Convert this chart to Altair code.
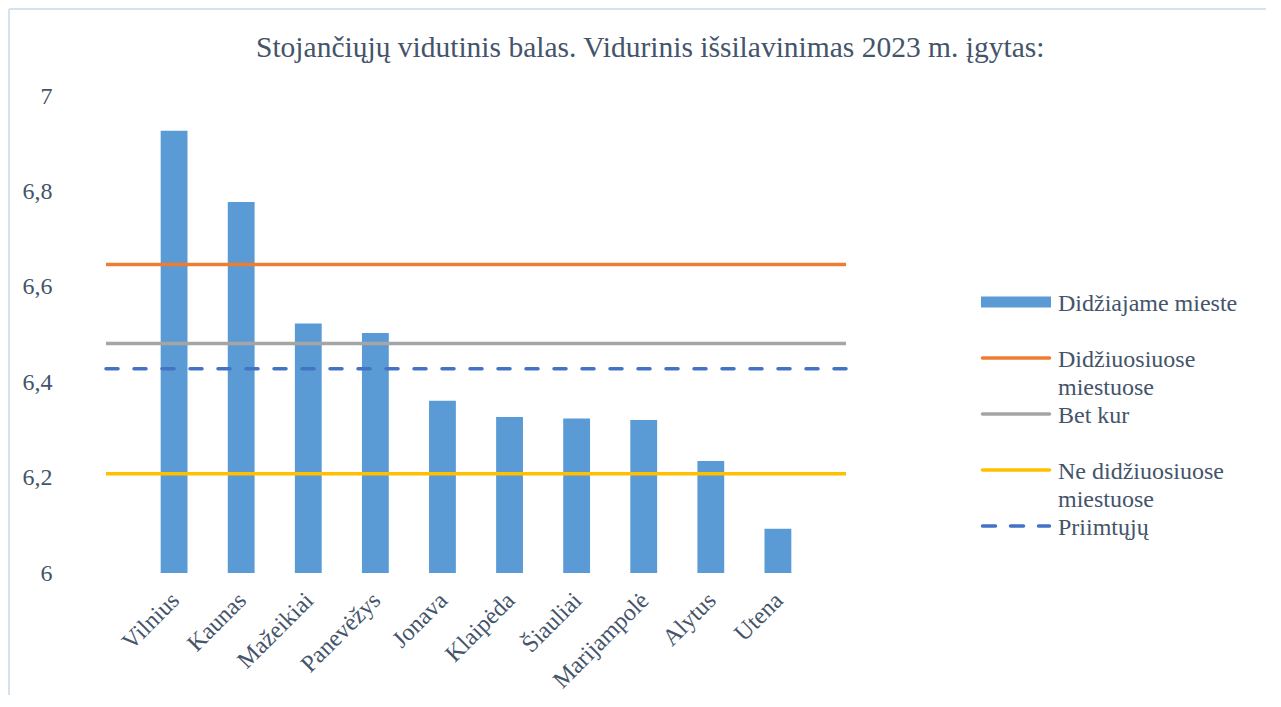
import altair as alt
import pandas as pd

# ---- data ----
cities = ["Vilnius", "Kaunas", "Mažeikiai", "Panevėžys", "Jonava",
          "Klaipėda", "Šiauliai", "Marijampolė", "Alytus", "Utena"]
city_scores = [6.927, 6.778, 6.523, 6.503, 6.361, 6.327, 6.324, 6.321, 6.235, 6.093]

bar_series = "Didžiajame mieste"
line_series = ["Didžiuosiuose miestuose", "Bet kur", "Ne didžiuosiuose miestuose", "Priimtųjų"]
line_values = [6.647, 6.481, 6.208, 6.428]

legend_labels = ["Didžiajame mieste", "Didžiuosiuose\nmiestuose", "Bet kur",
                 "Ne didžiuosiuose\nmiestuose", "Priimtųjų"]
series_colors = ["#5B9BD5", "#ED7D31", "#A5A5A5", "#FFC000", "#4472C4"]
y_ticks = [6, 6.2, 6.4, 6.6, 6.8, 7]

title_text = "Stojančiųjų vidutinis balas. Vidurinis išsilavinimas 2023 m. įgytas:"

FONT = "Liberation Serif"
TXT = "#44546A"

all_series = [bar_series] + line_series
color_scale = alt.Scale(domain=all_series, range=series_colors)
y_scale = alt.Scale(domain=[6, 7], zero=False, nice=False)

bars_df = pd.DataFrame({"city": cities, "score": city_scores})
lines_df = pd.DataFrame({"series": line_series, "value": line_values})
legend_df = pd.DataFrame({"series": all_series, "label": legend_labels,
                          "row": list(range(len(all_series)))})

bars = alt.Chart(bars_df).mark_bar(color="#5B9BD5", clip=True).encode(
    x=alt.X("city:N", sort=cities,
            scale=alt.Scale(paddingInner=0.6, paddingOuter=0.815),
            axis=alt.Axis(title=None, labelAngle=-45, labelPadding=15, labelOffset=-7)),
    y=alt.Y("score:Q", scale=y_scale,
            axis=alt.Axis(title=None, values=y_ticks, labelPadding=54,
                          labelExpr="replace(format(datum.value, '.1~f'), '.', ',')")),
)

solid = alt.Chart(lines_df).transform_filter(
    alt.datum.series != "Priimtųjų"
).mark_rule(strokeWidth=3.5).encode(
    y=alt.Y("value:Q", scale=y_scale),
    color=alt.Color("series:N", scale=color_scale, legend=None),
)

dashed = alt.Chart(lines_df).transform_filter(
    alt.datum.series == "Priimtųjų"
).mark_rule(strokeWidth=3.5, strokeDash=[12, 16], strokeCap="round").encode(
    y=alt.Y("value:Q", scale=y_scale),
    color=alt.Color("series:N", scale=color_scale, legend=None),
)

frame_df = pd.DataFrame({"k": [0]})
frame_left = alt.Chart(frame_df).mark_rule(color="#D5E3F1", strokeWidth=2).encode(
    x=alt.value(-97), y=alt.value(-87), y2=alt.value(620))
frame_top = alt.Chart(frame_df).mark_rule(color="#D5E3F1", strokeWidth=2).encode(
    x=alt.value(-97), x2=alt.value(1170), y=alt.value(-87))

main = alt.layer(frame_left, frame_top, bars, solid, dashed)

leg_y = alt.Y("row:Q", scale=alt.Scale(domain=[0, 4], range=[206, 430]), axis=None)

leg_bar = alt.Chart(legend_df).transform_filter(
    alt.datum.row == 0
).mark_rule(strokeWidth=11).encode(
    x=alt.value(875), x2=alt.value(945), y=leg_y,
    color=alt.Color("series:N", scale=color_scale, legend=None),
)
leg_solid = alt.Chart(legend_df).transform_filter(
    (alt.datum.row > 0) & (alt.datum.row < 4)
).mark_rule(strokeWidth=3.5, strokeCap="round").encode(
    x=alt.value(876.5), x2=alt.value(943.5), y=leg_y,
    color=alt.Color("series:N", scale=color_scale, legend=None),
)
leg_dash = alt.Chart(legend_df).transform_filter(
    alt.datum.row == 4
).mark_rule(strokeWidth=3.5, strokeCap="round", strokeDash=[13, 15]).encode(
    x=alt.value(876.5), x2=alt.value(943.5), y=leg_y,
    color=alt.Color("series:N", scale=color_scale, legend=None),
)
leg_text = alt.Chart(legend_df).mark_text(
    align="left", baseline="top", dy=-10, fontSize=24, font=FONT, color=TXT,
    lineBreak="\n", lineHeight=28,
).encode(x=alt.value(952), y=leg_y, text="label:N")

legend_layer = alt.layer(leg_bar, leg_solid, leg_dash, leg_text)

chart = alt.layer(main, legend_layer).resolve_scale(y="independent").properties(
    width=740, height=477,
    padding={"left": 98, "top": 88, "right": 420, "bottom": 122},
    autosize=alt.AutoSizeParams(type="none"),
    background="white",
    title=alt.Title(title_text, anchor="start", dx=248, dy=78, offset=0,
                    baseline="alphabetic", fontSize=29.5, font=FONT,
                    color=TXT, fontWeight="normal"),
).configure_view(stroke=None).configure_axis(
    labelFont=FONT, labelColor=TXT, labelFontSize=24, domain=False,
    ticks=False, tickSize=0, grid=False,
)

chart.save("out.html", embed_options={"renderer": "svg", "actions": False})
